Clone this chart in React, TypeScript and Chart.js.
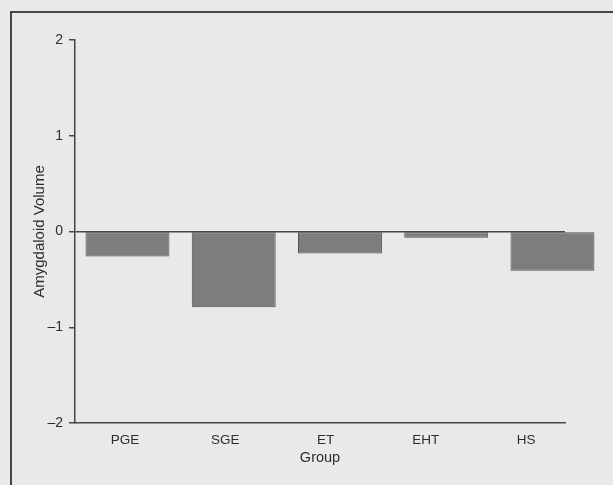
import React, { useEffect, useRef } from 'react';
import { Chart, registerables } from 'chart.js';

Chart.register(...registerables);

const categories = ['PGE', 'SGE', 'ET', 'EHT', 'HS'];
const volumes = [-0.26, -0.79, -0.23, -0.065, -0.41];
const yTicks = [-2, -1, 0, 1, 2];

const FONT = '"Liberation Sans", Arial, sans-serif';
const INK = '#2e2e2e';
const LINE = '#474747';
const PAPER = '#e9e9e9';

export default function App() {
  const ref = useRef<HTMLCanvasElement>(null);

  useEffect(() => {
    const chart = new Chart(ref.current as HTMLCanvasElement, {
      type: 'bar',
      data: {
        labels: categories,
        datasets: [
          {
            data: volumes.map((v, i) => ({ x: i, y: v })),
            xAxisID: 'xb',
            yAxisID: 'y',
            backgroundColor: '#7d7d7d',
            borderColor: '#525252',
            borderWidth: 1,
            borderSkipped: false,
            categoryPercentage: 1,
            barPercentage: 0.79,
            clip: false,
          } as any,
        ],
      },
      options: {
        responsive: false,
        animation: false,
        devicePixelRatio: 1,
        layout: { padding: { top: 40, right: 48, bottom: 0, left: 0 } },
        plugins: { legend: { display: false }, tooltip: { enabled: false } },
        scales: {
          xb: {
            type: 'linear',
            axis: 'x',
            display: false,
            min: -0.494,
            max: 4.118,
            offset: false,
            afterBuildTicks: (s: any) => {
              s.ticks = categories.map((_, i) => ({ value: i }));
            },
          } as any,
          x: {
            type: 'linear',
            position: 'bottom',
            min: -0.499,
            max: 4.389,
            offset: false,
            afterBuildTicks: (s: any) => {
              s.ticks = categories.map((_, i) => ({ value: i }));
            },
            afterFit: (s: any) => {
              s.height = 62;
            },
            ticks: {
              callback: (v: any) => categories[v as number] ?? '',
              color: INK,
              font: { family: FONT, size: 13.5 },
              padding: 9,
              maxRotation: 0,
              autoSkip: false,
            },
            grid: { display: false, drawTicks: false, tickLength: 0 },
            border: { display: true, color: LINE, width: 1.5 },
            title: {
              display: true,
              text: 'Group',
              color: INK,
              font: { family: FONT, size: 14.5 },
              padding: { top: 0, bottom: 18 },
            },
          } as any,
          y: {
            type: 'linear',
            min: -2,
            max: 2,
            afterBuildTicks: (s: any) => {
              s.ticks = yTicks.map((v) => ({ value: v }));
            },
            afterFit: (s: any) => {
              s.width = 75;
            },
            ticks: {
              callback: (v: any) => (v < 0 ? '\u2013' + Math.abs(v) : String(v)),
              color: INK,
              font: { family: FONT, size: 14 },
              padding: 6,
            },
            grid: {
              color: (c: any) => (c.tick && c.tick.value === 0 ? LINE : 'rgba(0,0,0,0)'),
              lineWidth: 1.5,
              drawTicks: true,
              tickLength: 6,
              tickColor: LINE,
              tickWidth: 1.5,
            },
            border: { display: true, color: LINE, width: 1.5 },
            title: {
              display: true,
              text: 'Amygdaloid Volume',
              color: INK,
              font: { family: FONT, size: 15 },
              padding: { top: 31, bottom: 0 },
            },
          } as any,
        },
      },
    });
    return () => chart.destroy();
  }, []);

  return (
    <div
      style={{
        position: 'fixed',
        left: 0,
        top: 0,
        width: 613,
        height: 485,
        background: PAPER,
        overflow: 'hidden',
      }}
    >
      <div
        style={{
          position: 'absolute',
          left: 10,
          top: 11,
          right: -4,
          bottom: -4,
          borderLeft: `2px solid ${LINE}`,
          borderTop: `2px solid ${LINE}`,
        }}
      />
      <canvas
        ref={ref}
        width={613}
        height={485}
        style={{ position: 'absolute', left: 0, top: 0, width: 613, height: 485 }}
      />
    </div>
  );
}
